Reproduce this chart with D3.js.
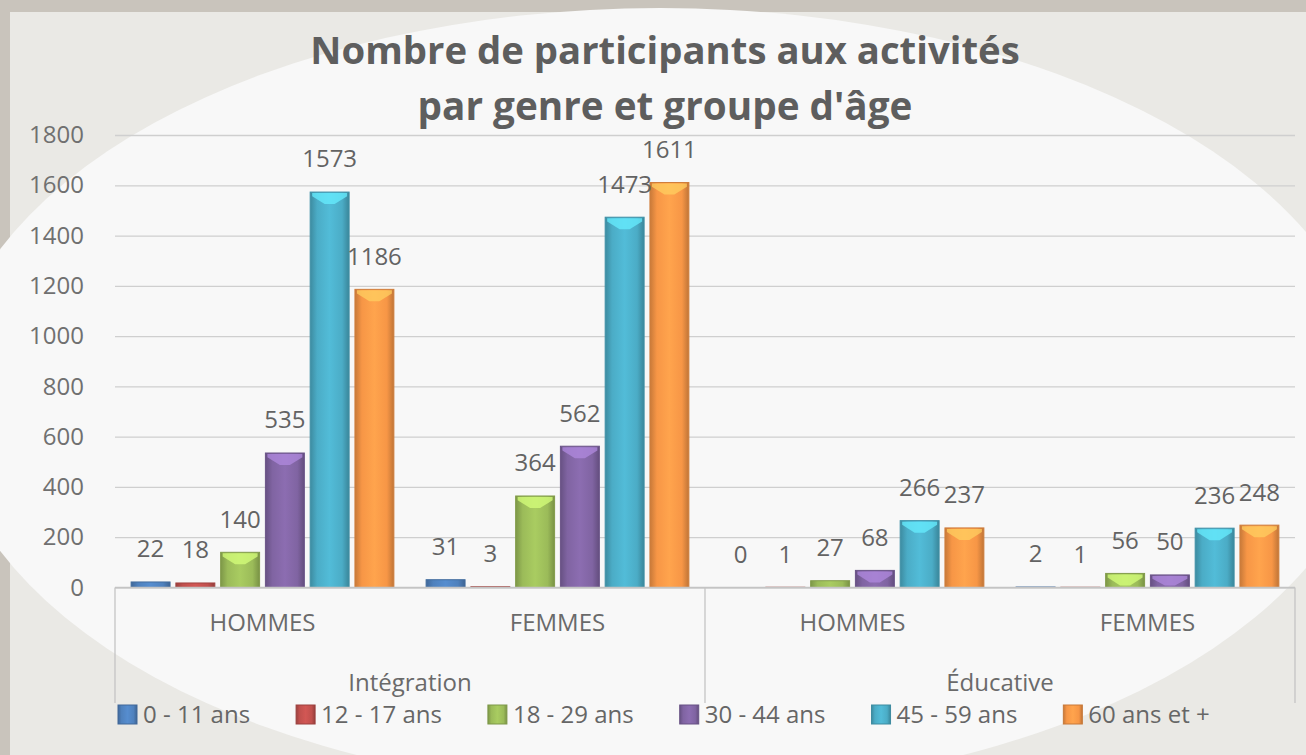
<!DOCTYPE html>
<html>
<head>
<meta charset="utf-8">
<script src="https://cdn.jsdelivr.net/npm/d3@7"></script>
<style>
  body { margin: 0; background: #cbc6bf; }
  svg { display: block; }
  text { font-family: "Open Sans", "Liberation Sans", sans-serif; }
</style>
</head>
<body>
<svg id="chart" width="1306" height="755"></svg>
<script>
// chart values
var titleLines = ["Nombre de participants aux activités", "par genre et groupe d'âge"];
var activities = ["Intégration", "Éducative"];
var genders = ["HOMMES", "FEMMES"];
var ageGroups = ["0 - 11 ans", "12 - 17 ans", "18 - 29 ans", "30 - 44 ans", "45 - 59 ans", "60 ans et +"];
var ageColors = ["#4f81bd", "#c0504d", "#9bbb59", "#8064a2", "#4bacc6", "#f79646"];
var integrationHommes = [22, 18, 140, 535, 1573, 1186];
var integrationFemmes = [31, 3, 364, 562, 1473, 1611];
var educativeHommes = [0, 1, 27, 68, 266, 237];
var educativeFemmes = [2, 1, 56, 50, 236, 248];
var yTicks = [0, 200, 400, 600, 800, 1000, 1200, 1400, 1600, 1800];

var seriesByCell = {
    "Intégration|HOMMES": integrationHommes,
    "Intégration|FEMMES": integrationFemmes,
    "Éducative|HOMMES": educativeHommes,
    "Éducative|FEMMES": educativeFemmes
};

var W = 1306, H = 755;
var plotLeft = 115, plotRight = 1295, plotTop = 135, plotBottom = 587.5;
var textColor = "#636363";

var svg = d3.select("#chart");
var defs = svg.append("defs");

// backdrop: panel + soft white ellipse
svg.append("rect").attr("width", W).attr("height", H).attr("fill", "#c9c4bc");
svg.append("rect").attr("x", 10).attr("y", 12).attr("width", W - 10).attr("height", H - 12)
    .attr("fill", "#ffffff").attr("fill-opacity", 0.62);
svg.append("ellipse").attr("cx", 660).attr("cy", 400).attr("rx", 715).attr("ry", 392)
    .attr("fill", "#f8f8f8");

// scales
var cells = [];
activities.forEach(function (a) {
    genders.forEach(function (g) { cells.push(a + "|" + g); });
});
var x0 = d3.scaleBand().domain(cells).range([plotLeft, plotRight]);
var x1 = d3.scaleBand().domain(ageGroups).range([0, x0.bandwidth()])
    .paddingInner(0.13).paddingOuter(0.36);
var y = d3.scaleLinear().domain([0, 1800]).range([plotBottom, plotTop]);
var color = d3.scaleOrdinal().domain(ageGroups).range(ageColors);

// gridlines + y labels
var yAxis = svg.append("g")
    .attr("transform", "translate(" + plotLeft + ",0)")
    .call(d3.axisLeft(y).tickValues(yTicks).tickFormat(d3.format("d"))
        .tickSize(-(plotRight - plotLeft)).tickPadding(31));
yAxis.select(".domain").remove();
yAxis.selectAll(".tick line").attr("stroke", "#cfcfcf").attr("stroke-width", 1.3);
yAxis.selectAll(".tick text")
    .attr("fill", "#707070")
    .style("font-size", "24px")
    .style("font-family", "'Open Sans', sans-serif");

// bar gradients
ageGroups.forEach(function (g, i) {
    var c = d3.color(color(g));
    var grad = defs.append("linearGradient").attr("id", "bar-" + i)
        .attr("x1", "0%").attr("x2", "100%").attr("y1", "0%").attr("y2", "0%");
    grad.append("stop").attr("offset", "0%").attr("stop-color", c.darker(0.6));
    grad.append("stop").attr("offset", "18%").attr("stop-color", c);
    grad.append("stop").attr("offset", "50%").attr("stop-color", c.brighter(0.25));
    grad.append("stop").attr("offset", "82%").attr("stop-color", c);
    grad.append("stop").attr("offset", "100%").attr("stop-color", c.darker(0.7));
});

var barData = [];
cells.forEach(function (cell) {
    seriesByCell[cell].forEach(function (v, i) {
        barData.push({ cell: cell, age: ageGroups[i], idx: i, value: v });
    });
});

var bars = svg.append("g").selectAll("g")
    .data(barData.filter(function (d) { return d.value > 0; }))
    .join("g")
    .attr("transform", function (d) { return "translate(" + (x0(d.cell) + x1(d.age)) + ",0)"; });

bars.append("rect")
    .attr("x", 0)
    .attr("y", function (d) { return y(d.value); })
    .attr("width", x1.bandwidth())
    .attr("height", function (d) { return y(0) - y(d.value); })
    .attr("fill", function (d) { return "url(#bar-" + d.idx + ")"; })
    .attr("stroke", function (d) { return d3.color(color(d.age)).darker(0.5); })
    .attr("stroke-width", 1);

// lighter chevron on the bar top (3D look)
bars.filter(function (d) { return y(0) - y(d.value) > 10; })
    .append("path")
    .attr("d", function (d) {
        var w = x1.bandwidth(), t = y(d.value);
        var h = Math.min(12, y(0) - t - 2);
        return "M2," + (t + 1) + "L" + (w - 2) + "," + (t + 1) + "L" + (w - 2) + "," + (t + h * 0.35) +
            "L" + (w / 2 + 5) + "," + (t + h) + "L" + (w / 2 - 5) + "," + (t + h) + "L2," + (t + h * 0.35) + "Z";
    })
    .attr("fill", function (d) { return d3.color(color(d.age)).brighter(0.9); })
    .attr("fill-opacity", 0.75);

// data labels
svg.append("g").selectAll("text")
    .data(barData)
    .join("text")
    .attr("x", function (d) { return x0(d.cell) + x1(d.age) + x1.bandwidth() / 2; })
    .attr("y", function (d) { return y(d.value) - 33; })
    .attr("dy", "0.35em")
    .attr("text-anchor", "middle")
    .attr("fill", textColor)
    .style("font-size", "24px")
    .text(function (d) { return d.value; });

// multi-level category axis
var axisG = svg.append("g").attr("stroke", "#c4c4c4").attr("stroke-width", 1.3);
axisG.append("line").attr("x1", plotLeft).attr("x2", plotRight)
    .attr("y1", plotBottom).attr("y2", plotBottom);
var activityEdges = activities.map(function (a) { return x0(a + "|" + genders[0]); });
activityEdges.push(plotRight);
activityEdges.forEach(function (xe) {
    axisG.append("line").attr("x1", xe).attr("x2", xe).attr("y1", plotBottom).attr("y2", 703);
});

svg.append("g").selectAll("text")
    .data(cells)
    .join("text")
    .attr("x", function (c) { return x0(c) + x0.bandwidth() / 2; })
    .attr("y", 623)
    .attr("dy", "0.35em")
    .attr("text-anchor", "middle")
    .attr("fill", "#6a6a6a")
    .style("font-size", "24px")
    .text(function (c) { return c.split("|")[1]; });

svg.append("g").selectAll("text")
    .data(activities)
    .join("text")
    .attr("x", function (a) { return x0(a + "|" + genders[0]) + x0.bandwidth(); })
    .attr("y", 683)
    .attr("dy", "0.35em")
    .attr("text-anchor", "middle")
    .attr("fill", "#6a6a6a")
    .style("font-size", "24px")
    .text(function (a) { return a; });

// title, fitted to the reference width
var title = svg.append("g");
var titleWidths = [709, 495];
titleLines.forEach(function (line, i) {
    var t = title.append("text")
        .attr("x", 665)
        .attr("y", i === 0 ? 64 : 120)
        .attr("text-anchor", "middle")
        .attr("fill", "#5e5e5e")
        .style("font-weight", "bold")
        .style("font-size", "34px")
        .text(line);
    var len = t.node().getComputedTextLength();
    t.style("font-size", (34 * titleWidths[i] / len).toFixed(1) + "px");
});

// legend
var legend = svg.append("g");
var lx = 118;
ageGroups.forEach(function (g, i) {
    var item = legend.append("g").attr("transform", "translate(" + lx + ",705)");
    item.append("rect").attr("width", 19).attr("height", 19)
        .attr("fill", "url(#bar-" + i + ")")
        .attr("stroke", d3.color(color(g)).darker(0.6)).attr("stroke-width", 1);
    var t = item.append("text").attr("x", 25).attr("y", 10).attr("dy", "0.35em")
        .attr("fill", "#666666")
        .style("font-size", "24px")
        .text(g);
    lx += 25 + t.node().getComputedTextLength() + 46;
});
</script>
</body>
</html>
